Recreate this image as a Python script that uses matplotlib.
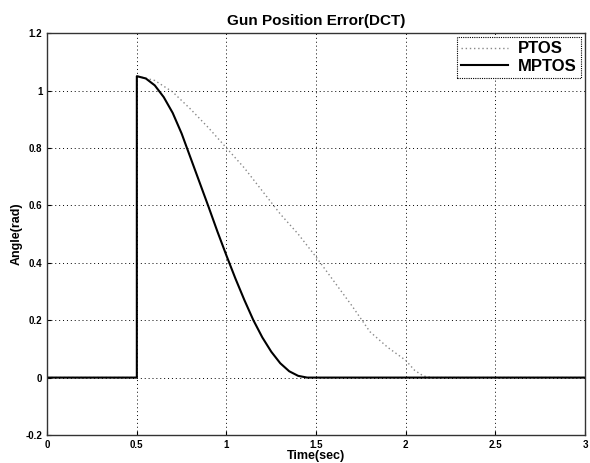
import matplotlib
matplotlib.use("Agg")
import matplotlib.pyplot as plt
import numpy as np

plt.rcParams['font.family'] = ['Liberation Sans', 'DejaVu Sans']

# PTOS (dotted gray)
ptos_t = [0, 0.5, 0.5, 0.6, 0.7, 0.8, 0.9, 1.0, 1.1, 1.2, 1.3, 1.4, 1.5, 1.6, 1.7, 1.8, 1.9, 2.0, 2.05, 2.1, 2.15, 3.0]
ptos_y = [0, 0, 1.05, 1.035, 0.995, 0.935, 0.87, 0.80, 0.73, 0.65, 0.57, 0.50, 0.42, 0.335, 0.25, 0.16, 0.105, 0.06, 0.025, 0.005, 0, 0]

# MPTOS (solid black)
mptos_t = [0, 0.5, 0.5, 0.55, 0.6, 0.65, 0.7, 0.75, 0.8, 0.85, 0.9, 0.95, 1.0, 1.05, 1.1, 1.15, 1.2, 1.25, 1.3, 1.35, 1.4, 1.45, 3.0]
mptos_y = [0, 0, 1.05, 1.042, 1.018, 0.977, 0.922, 0.85, 0.765, 0.68, 0.595, 0.508, 0.425, 0.345, 0.27, 0.20, 0.14, 0.09, 0.05, 0.022, 0.006, 0, 0]

xticks = [0, 0.5, 1, 1.5, 2, 2.5, 3]
xticklabels = ['0', '0.5', '1', '1.5', '2', '2.5', '3']
yticks = [-0.2, 0, 0.2, 0.4, 0.6, 0.8, 1, 1.2]
yticklabels = ['-0.2', '0', '0.2', '0.4', '0.6', '0.8', '1', '1.2']

fig = plt.figure(figsize=(5.9, 4.63), dpi=100)
ax = fig.add_axes([0.08, 0.0605, 0.9115, 0.868])

ax.plot(ptos_t, ptos_y, color='#888888', linestyle=(0, (1, 2)), linewidth=1.0, label='PTOS')
ax.plot(mptos_t, mptos_y, color='black', linestyle='-', linewidth=1.5, label='MPTOS')

ax.set_xlim(0, 3)
ax.set_ylim(-0.2, 1.2)
ax.set_xticks(xticks)
ax.set_xticklabels(xticklabels, fontsize=7, fontweight='bold')
ax.set_yticks(yticks)
ax.set_yticklabels(yticklabels, fontsize=7, fontweight='bold')
ax.tick_params(direction='in', length=3, width=0.8)
ax.grid(True, color='black', linestyle=(0, (1, 3)), linewidth=0.7)
for s in ax.spines.values():
    s.set_linewidth(1.0)
    s.set_color('#333333')

ax.set_title('Gun Position Error(DCT)', fontsize=11, fontweight='bold', pad=6)
ax.set_xlabel('Time(sec)', fontsize=9, fontweight='bold', labelpad=0)
ax.set_ylabel('Angle(rad)', fontsize=9, fontweight='bold', labelpad=2)

leg = ax.legend(loc='upper right', prop={'weight': 'bold', 'size': 12},
                fancybox=False, edgecolor='black', framealpha=1, borderaxespad=0.25,
                handlelength=2.8, borderpad=0.25, labelspacing=0.15, handletextpad=0.6)
leg.get_frame().set_linewidth(0.8)
leg.get_frame().set_linestyle((0, (1, 1)))

fig.savefig('out.png', dpi=100)
